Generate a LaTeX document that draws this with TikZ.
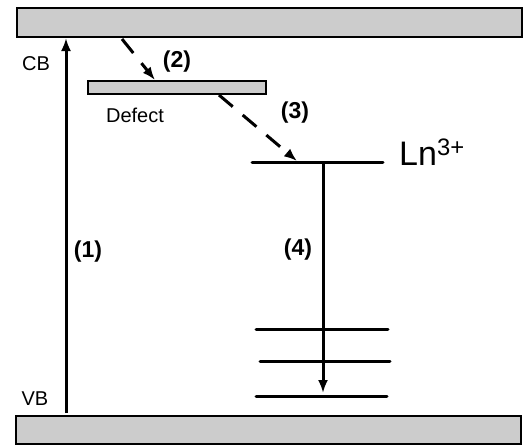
\documentclass[tikz,border=0pt]{standalone}
\usepackage{fontspec}
\setmainfont{Liberation Sans}
\usetikzlibrary{arrows.meta}
\definecolor{bandgray}{HTML}{CCCCCC}
\begin{document}
\begin{tikzpicture}[x=1pt,y=-1pt,
  band/.style={draw=black,line width=2pt,fill=bandgray,inner sep=0pt,rectangle},
  level/.style={line width=3pt,line cap=round},
  tran/.style={line width=3pt,-{Latex[length=13pt,width=10pt]}},
  dtran/.style={line width=3pt,dash pattern=on 18pt off 13pt,-{Latex[length=13pt,width=10pt]}},
  lab/.style={font=\fontsize{20}{22}\selectfont,inner sep=0pt},
  num/.style={font=\fontsize{23}{25}\selectfont\bfseries,inner sep=0pt}]
\useasboundingbox (0,0) rectangle (525,445);
% bands
\node[band,minimum width=505pt,minimum height=29pt] (cb) at (269,22.5) {};
\node[band,minimum width=505pt,minimum height=28pt] (vb) at (268.5,430) {};
\node[band,line width=1.6pt,minimum width=178pt,minimum height=13pt] (def) at (177,87.5) {};
% Ln levels
\coordinate (lnL) at (252,162);
\coordinate (lnR) at (383,162);
\draw[level] (lnL) -- (lnR);
\coordinate (l1L) at (256,329); \coordinate (l1R) at (388,329);
\coordinate (l2L) at (260,361); \coordinate (l2R) at (390,361);
\coordinate (l3L) at (256,396); \coordinate (l3R) at (387,396);
\draw[level] (l1L) -- (l1R);
\draw[level] (l2L) -- (l2R);
\draw[level] (l3L) -- (l3R);
% labels
\node[lab] (cbl) at (36,64) {CB};
\node[lab] (vbl) at (35,399) {VB};
\node[font=\fontsize{20}{22}\selectfont,inner sep=0pt] (defl) at (135,115) {Defect};
\node[font=\fontsize{34}{36}\selectfont,inner sep=0pt,anchor=base west] (lnl) at (399,165) {Ln\textsuperscript{3+}};
\node[num] (n1) at (88,252) {(1)};
\node[num] (n2) at (177,62) {(2)};
\node[num] (n3) at (295,113) {(3)};
\node[num] (n4) at (298,250) {(4)};
% transitions
\coordinate (a1s) at (66,413);
\coordinate (a1e) at (66,38);
\draw[tran] (a1s) -- (a1e);
\coordinate (a2s) at (122,39);
\coordinate (a2e) at (155,80);
\draw[dtran] (a2s) -- (a2e);
\coordinate (a3s) at (219,95);
\coordinate (a3e) at (297,161);
\draw[dtran] (a3s) -- (a3e);
\coordinate (a4s) at (323,163);
\coordinate (a4e) at (323,393);
\draw[tran] (a4s) -- (a4e);
\end{tikzpicture}
\end{document}
